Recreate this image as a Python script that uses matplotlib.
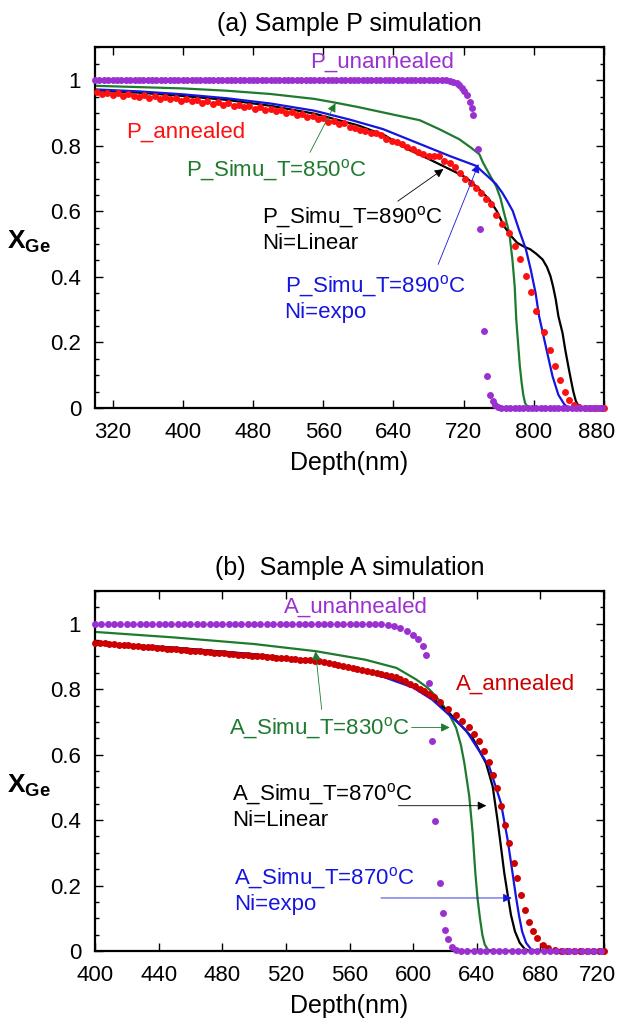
import matplotlib
matplotlib.use('Agg')
import matplotlib.pyplot as plt
from matplotlib.ticker import MultipleLocator
from matplotlib.transforms import ScaledTranslation

plt.rcParams['font.family'] = ['Liberation Sans', 'DejaVu Sans']
plt.rcParams['mathtext.fontset'] = 'custom'
plt.rcParams['mathtext.rm'] = 'Liberation Sans'
plt.rcParams['mathtext.bf'] = 'Liberation Sans:bold'

purple = '#9b30d0'
red_a = '#ff1010'
red_b = '#cc0000'
green = '#1e7a2e'
blue = '#1515e0'

# ---------------- (a) Sample P ----------------
p_unann_x = [300, 305, 310, 315, 320, 325, 330, 335, 340, 345, 350, 355, 360, 365, 370, 375, 380, 385, 390, 395,
             400, 405, 410, 415, 420, 425, 430, 435, 440, 445, 450, 455, 460, 465, 470, 475, 480, 485, 490, 495,
             500, 505, 510, 515, 520, 525, 530, 535, 540, 545, 550, 555, 560, 565, 570, 575, 580, 585, 590, 595,
             600, 605, 610, 615, 620, 625, 630, 635, 640, 645, 650, 655, 660, 665, 670, 675, 680, 685, 690, 695,
             700, 704, 708, 712, 715, 718, 721, 724, 727, 729, 731, 736, 739, 743.5, 747, 750, 753, 756, 759,
             763, 768, 773, 778, 783, 788, 793, 798, 803, 808, 813, 818, 823, 828, 833, 838, 843, 848, 853, 858,
             863, 868, 873, 878]
p_unann_y = [1.0, 1.0, 1.0, 1.0, 1.0, 1.0, 1.0, 1.0, 1.0, 1.0, 1.0, 1.0, 1.0, 1.0, 1.0, 1.0, 1.0, 1.0, 1.0, 1.0,
             1.0, 1.0, 1.0, 1.0, 1.0, 1.0, 1.0, 1.0, 1.0, 1.0, 1.0, 1.0, 1.0, 1.0, 1.0, 1.0, 1.0, 1.0, 1.0, 1.0,
             1.0, 1.0, 1.0, 1.0, 1.0, 1.0, 1.0, 1.0, 1.0, 1.0, 1.0, 1.0, 1.0, 1.0, 1.0, 1.0, 1.0, 1.0, 1.0, 1.0,
             1.0, 1.0, 1.0, 1.0, 1.0, 1.0, 1.0, 1.0, 1.0, 1.0, 1.0, 1.0, 1.0, 1.0, 1.0, 1.0, 1.0, 1.0, 1.0, 1.0,
             1.0, 0.998, 0.996, 0.991, 0.985, 0.977, 0.968, 0.956, 0.935, 0.915, 0.894, 0.79, 0.547, 0.236, 0.098,
             0.04, 0.02, 0.008, 0.003,
             0, 0, 0, 0, 0, 0, 0, 0, 0, 0, 0, 0, 0, 0, 0, 0, 0, 0, 0, 0, 0, 0, 0, 0]

p_ann_x = [302, 308, 314, 320, 326, 332, 338, 344, 350, 356, 362, 368, 374, 380, 386, 392, 398, 404, 410, 416,
           422, 428, 434, 440, 446, 452, 458, 464, 470, 476, 482, 488, 494, 500, 506, 512, 518, 524, 530, 536,
           542, 548, 554, 560, 566, 572, 578, 584, 590, 596, 602, 608, 614, 620, 626, 632, 638, 644, 650, 656,
           662, 668, 674, 680, 686, 692, 698, 704, 710, 716, 722, 728, 734, 740, 746, 751, 757, 764, 772, 778,
           784, 791, 797, 803, 812, 818, 824, 829.5, 835, 840, 846, 852, 858, 864, 870, 876, 880]
p_ann_y = [0.963, 0.958, 0.962, 0.955, 0.960, 0.951, 0.957, 0.953, 0.949, 0.955, 0.947, 0.951, 0.944, 0.949,
           0.942, 0.946, 0.938, 0.943, 0.936, 0.940, 0.931, 0.936, 0.928, 0.933, 0.924, 0.929, 0.921, 0.925,
           0.917, 0.921, 0.913, 0.917, 0.909, 0.912, 0.905, 0.908, 0.900, 0.903, 0.895, 0.898, 0.889, 0.892,
           0.882, 0.885, 0.874, 0.877, 0.866, 0.868, 0.858, 0.855, 0.848, 0.846, 0.840, 0.838, 0.834, 0.820,
           0.815, 0.810, 0.804, 0.796, 0.789, 0.782, 0.775, 0.770, 0.768, 0.770, 0.755, 0.748, 0.735, 0.718,
           0.700, 0.685, 0.670, 0.655, 0.638, 0.621, 0.588, 0.560, 0.535, 0.494, 0.455, 0.402, 0.353, 0.296,
           0.232, 0.178, 0.129, 0.084, 0.050, 0.025, 0.010, 0.003, 0, 0, 0, 0, 0]

p_lin_x = [300, 350, 400, 450, 500, 550, 600, 630, 656, 680, 696, 712, 723, 736, 749, 758, 766, 774, 781, 789,
           796, 803, 810, 815, 819, 822, 825, 828, 832.7, 836, 839.4, 842, 845, 848, 851.5, 856, 880]
p_lin_y = [0.968, 0.962, 0.952, 0.940, 0.922, 0.898, 0.862, 0.832, 0.790, 0.760, 0.739, 0.718, 0.703, 0.672,
           0.637, 0.600, 0.555, 0.525, 0.504, 0.492, 0.484, 0.470, 0.453, 0.430, 0.402, 0.370, 0.331, 0.280,
           0.229, 0.175, 0.126, 0.090, 0.050, 0.020, 0.004, 0, 0]

p_exp_x = [300, 350, 400, 450, 500, 550, 590, 628, 666, 704, 734, 749, 757, 764, 770, 776, 783, 791, 796.5,
           802, 806, 811, 816, 821.4, 828, 835, 840, 880]
p_exp_y = [0.972, 0.966, 0.957, 0.945, 0.929, 0.907, 0.880, 0.851, 0.810, 0.769, 0.739, 0.703, 0.683, 0.657,
           0.630, 0.601, 0.545, 0.484, 0.422, 0.351, 0.280, 0.220, 0.160, 0.096, 0.040, 0.010, 0, 0]

p_850_x = [300, 350, 400, 450, 500, 550, 573, 600, 640, 670, 692, 715, 728, 738, 742, 750, 757, 762, 766, 769,
           772, 774, 775.6, 777, 778.2, 780, 782, 784, 786, 788, 790, 793, 796, 880]
p_850_y = [0.983, 0.979, 0.975, 0.968, 0.958, 0.943, 0.932, 0.918, 0.895, 0.878, 0.851, 0.820, 0.795, 0.774,
           0.749, 0.710, 0.677, 0.640, 0.596, 0.565, 0.535, 0.490, 0.453, 0.410, 0.371, 0.270, 0.200, 0.130,
           0.080, 0.040, 0.015, 0.003, 0, 0]

# ---------------- (b) Sample A ----------------
a_unann_x = [400, 404, 408, 412, 416, 420, 424, 428, 432, 436, 440, 444, 448, 452, 456, 460, 464, 468, 472, 476,
             480, 484, 488, 492, 496, 500, 504, 508, 512, 516, 520, 524, 528, 532, 536, 540, 544, 548, 552, 556,
             560, 564, 568, 572, 576, 580, 584, 588, 592, 596, 600, 603, 606, 608, 610, 612, 614, 617, 618.5,
             620, 622, 624.5, 627, 630, 634, 638, 642, 646, 650, 654, 658, 662, 666, 670, 674, 678, 682, 686,
             690, 694, 698, 702, 706, 710, 714, 718]
a_unann_y = [1.0, 1.0, 1.0, 1.0, 1.0, 1.0, 1.0, 1.0, 1.0, 1.0, 1.0, 1.0, 1.0, 1.0, 1.0, 1.0, 1.0, 1.0, 1.0, 1.0,
             1.0, 1.0, 1.0, 1.0, 1.0, 1.0, 1.0, 1.0, 1.0, 1.0, 1.0, 1.0, 1.0, 1.0, 1.0, 1.0, 1.0, 1.0, 1.0, 1.0,
             1.0, 1.0, 1.0, 1.0, 1.0, 0.998, 0.996, 0.992, 0.986, 0.978, 0.966, 0.952, 0.932, 0.905, 0.82,
             0.643, 0.396, 0.209, 0.115, 0.064, 0.037, 0.012, 0.004, 0.001,
             0, 0, 0, 0, 0, 0, 0, 0, 0, 0, 0, 0, 0, 0, 0, 0, 0, 0, 0, 0, 0, 0]

a_ann_x = [400, 403, 406, 409, 412, 415, 418, 421, 424, 427, 430, 433, 436, 439, 442, 445, 448, 451, 454, 457,
           460, 463, 466, 469, 472, 475, 478, 481, 484, 487, 490, 493, 496, 499, 502, 505, 508, 511, 514, 517,
           520, 523, 526, 529, 532, 535, 538, 541, 544, 547, 550, 553, 556, 559, 562, 565, 568, 571, 574, 577,
           580, 583, 586, 589, 592, 595, 598, 601, 604, 607, 610, 613, 617, 622, 627, 631, 635, 638.4, 641.6,
           644.7, 647.4, 650, 652.7, 655.2, 657.9, 660.4, 663.1, 665.6, 668, 670.5, 673, 675.5, 678, 681.5,
           685, 689, 693, 697, 701, 705, 709, 713, 717, 720]
a_ann_y = [0.942, 0.941, 0.940, 0.939, 0.937, 0.936, 0.935, 0.934, 0.933, 0.931, 0.930, 0.929, 0.928, 0.927,
           0.925, 0.924, 0.923, 0.922, 0.921, 0.919, 0.918, 0.917, 0.916, 0.914, 0.913, 0.912, 0.911, 0.910,
           0.908, 0.907, 0.906, 0.905, 0.904, 0.902, 0.901, 0.900, 0.899, 0.898, 0.896, 0.895, 0.894, 0.893,
           0.892, 0.890, 0.889, 0.888, 0.887, 0.885, 0.882, 0.879, 0.876, 0.873, 0.870, 0.867, 0.864, 0.861,
           0.858, 0.855, 0.852, 0.849, 0.846, 0.843, 0.840, 0.837, 0.831, 0.824, 0.817, 0.809, 0.801, 0.793,
           0.785, 0.776, 0.760, 0.740, 0.720, 0.704, 0.685, 0.663, 0.641, 0.612, 0.579, 0.539, 0.498, 0.444,
           0.386, 0.329, 0.268, 0.222, 0.171, 0.125, 0.090, 0.062, 0.039, 0.018, 0.009, 0.004, 0.001,
           0, 0, 0, 0, 0, 0, 0]

a_lin_x = [400, 450, 500, 540, 577, 600, 612, 622.8, 637.4, 645.8, 650, 653, 655.2, 657.3, 659.5, 661.5, 664,
           667, 670, 673, 720]
a_lin_y = [0.942, 0.927, 0.907, 0.885, 0.848, 0.810, 0.775, 0.727, 0.651, 0.574, 0.503, 0.401, 0.319, 0.238,
           0.170, 0.110, 0.060, 0.025, 0.007, 0, 0]

a_exp_x = [400, 450, 500, 540, 577, 600, 612, 633, 647.8, 655.2, 659.4, 662.5, 664.5, 666.5, 668.5, 671, 674,
           677, 720]
a_exp_y = [0.940, 0.926, 0.906, 0.884, 0.845, 0.805, 0.768, 0.676, 0.564, 0.452, 0.340, 0.238, 0.170, 0.110,
           0.060, 0.025, 0.006, 0, 0]

a_830_x = [400, 450, 500, 539, 570, 589.5, 601.8, 609, 614, 618.6, 623, 627, 630, 632.2, 635.3, 637.4, 639.1,
           640.5, 642, 643.5, 645, 647, 650, 720]
a_830_y = [0.975, 0.958, 0.938, 0.916, 0.890, 0.865, 0.830, 0.805, 0.780, 0.753, 0.720, 0.682, 0.630, 0.574,
           0.472, 0.360, 0.238, 0.160, 0.100, 0.050, 0.020, 0.004, 0, 0]

ytick_vals = [0, 0.2, 0.4, 0.6, 0.8, 1.0]
ytick_labels = ['0', '0.2', '0.4', '0.6', '0.8', '1']
xticks_a = [320, 400, 480, 560, 640, 720, 800, 880]
xticks_b = [400, 440, 480, 520, 560, 600, 640, 680, 720]

deg = '$^{\\rm o}$C'


def style_axes(ax, xlim, xticks):
    ax.set_xlim(*xlim)
    ax.set_ylim(0, 1.1)
    ax.set_xticks(xticks)
    ax.set_yticks(ytick_vals)
    ax.set_yticklabels(ytick_labels)
    ax.yaxis.set_minor_locator(MultipleLocator(0.05))
    ax.tick_params(which='both', direction='in', top=True, right=True, labelsize=16)
    ax.tick_params(which='major', length=6, width=1)
    ax.tick_params(which='minor', length=3, width=1)
    ax.tick_params(axis='x', pad=10)
    ax.tick_params(axis='y', pad=10)
    for s in ax.spines.values():
        s.set_linewidth(1.6)
    ax.set_xlabel('Depth(nm)', fontsize=18, labelpad=6)
    ax.set_ylabel(r'$\mathbf{X}_{\mathbf{Ge}}$', fontsize=19, rotation=0, ha='left', va='center')
    ax.yaxis.set_label_coords(-0.172, 0.46)
    # last x label is pulled in a little so it stays inside the figure
    last = ax.get_xticklabels()[-1]
    last.set_transform(last.get_transform() + ScaledTranslation(-0.07, 0, fig.dpi_scale_trans))


def arrow(ax, head, tail, color):
    ax.annotate('', xy=head, xytext=tail,
                arrowprops=dict(arrowstyle='-|>', color=color, lw=0.6,
                                mutation_scale=13, shrinkA=0, shrinkB=0))


fig = plt.figure(figsize=(6.19, 10.25), dpi=100)
ax1 = fig.add_axes([0.1535, 0.602, 0.8223, 0.3517])
ax2 = fig.add_axes([0.1535, 0.0722, 0.8223, 0.3512])

# panel (a)
ax1.plot(p_850_x, p_850_y, color=green, lw=1.6, zorder=2)
ax1.plot(p_lin_x, p_lin_y, color='black', lw=1.6, zorder=2)
ax1.plot(p_exp_x, p_exp_y, color=blue, lw=1.6, zorder=2)
ax1.plot(p_ann_x, p_ann_y, 'o', color=red_a, ms=5, mew=0, zorder=3, clip_on=False)
ax1.plot(p_unann_x, p_unann_y, 'o', color=purple, ms=5, mew=0, zorder=4, clip_on=False)
style_axes(ax1, (300, 880), xticks_a)
ax1.set_title('(a) Sample P simulation', fontsize=18, pad=12)

ax1.text(545, 1.056, 'P_unannealed', color=purple, fontsize=16, va='center')
ax1.text(336, 0.842, 'P_annealed', color=red_a, fontsize=16, va='center')
ax1.text(404, 0.726, 'P_Simu_T=850' + deg, color=green, fontsize=16, va='center')
ax1.text(490, 0.545, 'P_Simu_T=890' + deg + '\nNi=Linear', color='black', fontsize=16, va='center')
ax1.text(516, 0.336, 'P_Simu_T=890' + deg + '\nNi=expo', color=blue, fontsize=16, va='center')
arrow(ax1, (574, 0.93), (545, 0.78), green)
arrow(ax1, (697, 0.729), (645, 0.631), 'black')
arrow(ax1, (737, 0.744), (691, 0.438), blue)

# panel (b)
ax2.plot(a_830_x, a_830_y, color=green, lw=1.6, zorder=2)
ax2.plot(a_lin_x, a_lin_y, color='black', lw=1.6, zorder=2)
ax2.plot(a_exp_x, a_exp_y, color=blue, lw=1.6, zorder=2)
ax2.plot(a_ann_x, a_ann_y, 'o', color=red_b, ms=5, mew=0, zorder=3, clip_on=False)
ax2.plot(a_unann_x, a_unann_y, 'o', color=purple, ms=5, mew=0, zorder=4, clip_on=False)
style_axes(ax2, (400, 720), xticks_b)
ax2.set_title('(b)  Sample A simulation', fontsize=18, pad=11.5)

ax2.text(518.6, 1.05, 'A_unannealed', color=purple, fontsize=16, va='center')
ax2.text(627, 0.814, 'A_annealed', color=red_b, fontsize=16, va='center')
ax2.text(484, 0.682, 'A_Simu_T=830' + deg, color=green, fontsize=16, va='center')
ax2.text(486, 0.4425, 'A_Simu_T=870' + deg + '\nNi=Linear', color='black', fontsize=16, va='center')
ax2.text(487.4, 0.185, 'A_Simu_T=870' + deg + '\nNi=expo', color=blue, fontsize=16, va='center')
arrow(ax2, (623, 0.683), (599, 0.683), green)
arrow(ax2, (538.6, 0.916), (542.5, 0.738), green)
arrow(ax2, (646, 0.444), (590.7, 0.444), 'black')
arrow(ax2, (662, 0.162), (579.8, 0.162), blue)

fig.savefig('out.png', dpi=100)
